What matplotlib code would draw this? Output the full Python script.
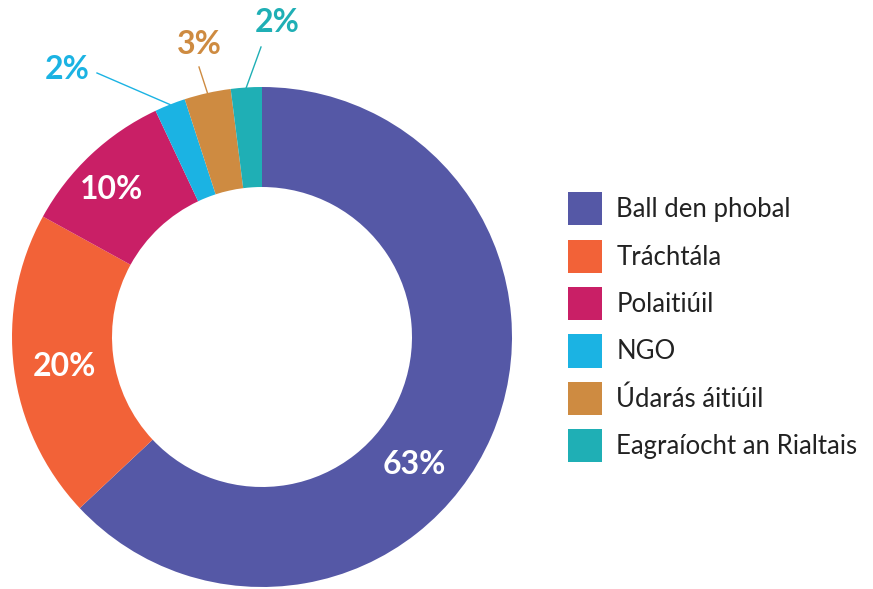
import matplotlib
matplotlib.use("Agg")
import numpy as np
import matplotlib.pyplot as plt
from matplotlib.patches import Patch

categories = ["Ball den phobal", "Tráchtála", "Polaitiúil", "NGO", "Údarás áitiúil", "Eagraíocht an Rialtais"]
values = [63, 20, 10, 2, 3, 2]
labels = ["63%", "20%", "10%", "2%", "3%", "2%"]
colors = ["#5558A6", "#F26238", "#C91F66", "#1BB3E3", "#CE8B41", "#1FAFB5"]

plt.rcParams["font.family"] = ["Lato", "DejaVu Sans"]

fig = plt.figure(figsize=(8.73, 5.89), dpi=100)
ax = fig.add_axes([12 / 873, 2 / 589, 500 / 873, 500 / 589])

wedges, _ = ax.pie(values, colors=colors, startangle=90, counterclock=False,
                   radius=1, wedgeprops=dict(width=0.4, linewidth=0))
ax.set_xlim(-1, 1)
ax.set_ylim(-1, 1)
ax.set_aspect("equal")
ax.axis("off")

# inside labels (white) for the big slices, positions in data units
inside = {0: (0.61, -0.51), 1: (-0.79, -0.12), 2: (-0.6, 0.59)}
for i, (x, y) in inside.items():
    ax.text(x, y, labels[i], color="white", fontsize=23, fontweight="bold",
            ha="center", va="center")

# outside labels with leader lines for the small slices
outside = {3: ((-0.78, 1.07), (-0.66, 1.056)),
           4: ((-0.25, 1.17), (-0.252, 1.08)),
           5: ((0.06, 1.26), (-0.004, 1.16))}
for i, ((tx, ty), (lx, ly)) in outside.items():
    w = wedges[i]
    ang = np.deg2rad((w.theta1 + w.theta2) / 2)
    x0, y0 = np.cos(ang), np.sin(ang)
    ax.plot([x0, lx], [y0, ly], color=colors[i], lw=1, clip_on=False)
    ax.text(tx, ty, labels[i], color=colors[i], fontsize=23, fontweight="bold",
            ha="center", va="center", clip_on=False)

handles = [Patch(facecolor=c, edgecolor="none") for c in colors]
fig.legend(handles, categories, loc="upper left", bbox_to_anchor=(558 / 873, 1 - 182 / 589),
           frameon=False, fontsize=18.5, handlelength=1.32, handleheight=1.6,
           handletextpad=0.55, labelspacing=0.56, borderaxespad=0, labelcolor="#222222")

fig.savefig("out.png", dpi=100)
